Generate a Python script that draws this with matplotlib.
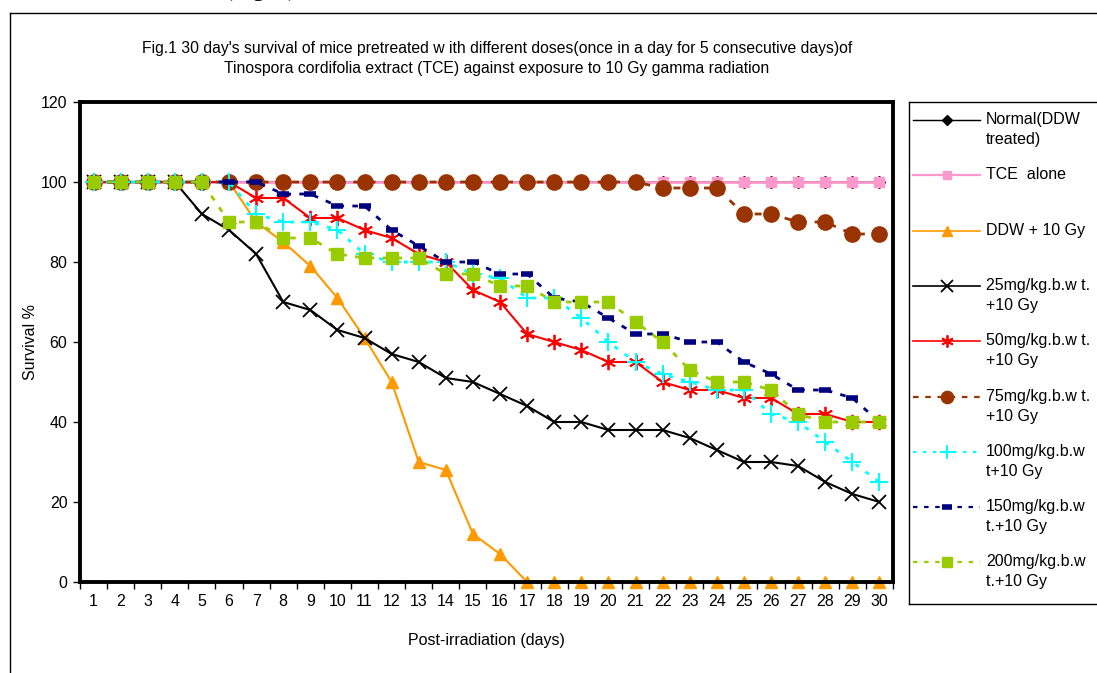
import matplotlib
matplotlib.use("Agg")
import matplotlib.pyplot as plt
from matplotlib.lines import Line2D

plt.rcParams['font.family'] = ['Liberation Sans', 'DejaVu Sans']

days = list(range(1, 31))

normal = [100] * 30
tce_alone = [100] * 30
ddw_10gy = [100, 100, 100, 100, 100, 100, 90, 85, 79, 71,
            61, 50, 30, 28, 12, 7, 0, 0, 0, 0,
            0, 0, 0, 0, 0, 0, 0, 0, 0, 0]
dose_25 = [100, 100, 100, 100, 92, 88, 82, 70, 68, 63,
           61, 57, 55, 51, 50, 47, 44, 40, 40, 38,
           38, 38, 36, 33, 30, 30, 29, 25, 22, 20]
dose_50 = [100, 100, 100, 100, 100, 100, 96, 96, 91, 91,
           88, 86, 82, 80, 73, 70, 62, 60, 58, 55,
           55, 50, 48, 48, 46, 46, 42, 42, 40, 40]
dose_75 = [100, 100, 100, 100, 100, 100, 100, 100, 100, 100,
           100, 100, 100, 100, 100, 100, 100, 100, 100, 100,
           100, 98.5, 98.5, 98.5, 92, 92, 90, 90, 87, 87]
dose_100 = [100, 100, 100, 100, 100, 100, 92, 90, 90, 88,
            82, 80, 80, 80, 77, 76, 71, 71, 66, 60,
            55, 52, 50, 48, 48, 42, 40, 35, 30, 25]
dose_150 = [100, 100, 100, 100, 100, 100, 100, 97, 97, 94,
            94, 88, 84, 80, 80, 77, 77, 71, 70, 66,
            62, 62, 60, 60, 55, 52, 48, 48, 46, 40]
dose_200 = [100, 100, 100, 100, 100, 90, 90, 86, 86, 82,
            81, 81, 81, 77, 77, 74, 74, 70, 70, 70,
            65, 60, 53, 50, 50, 48, 42, 40, 40, 40]

labels = ["Normal(DDW\ntreated)", "TCE  alone", "DDW + 10 Gy",
          "25mg/kg.b.w t.\n+10 Gy", "50mg/kg.b.w t.\n+10 Gy",
          "75mg/kg.b.w t.\n+10 Gy", "100mg/kg.b.w\nt+10 Gy",
          "150mg/kg.b.w\nt.+10 Gy", "200mg/kg.b.w\nt.+10 Gy"]

W, H = 1097, 673
fig = plt.figure(figsize=(W / 100, H / 100), dpi=100)

# outer chart border and the heading above it (cut off in the original)
fig.add_artist(Line2D([10 / W, 1], [1 - 13 / H, 1 - 13 / H], color='black', lw=1))
fig.add_artist(Line2D([10 / W, 10 / W], [0, 1 - 13 / H], color='black', lw=1))
fig.text(260 / W, 1 + 4 / H, "(Fig. 1)", family='Liberation Serif', fontsize=17,
         ha='center', va='baseline')

ax = fig.add_axes([80 / W, (H - 582) / H, 813 / W, 480 / H])

styles = [
    dict(color='black', ls='-', marker='D', ms=6, lw=1.3),
    dict(color='#ff99cc', ls='-', marker='s', ms=7, lw=2),
    dict(color='#ff9900', ls='-', marker='^', ms=9, lw=1.5),
    dict(color='black', ls='-', marker='x', ms=10, mew=1.3, lw=1.5),
    dict(color='#ff0000', ls='-', marker=(6, 2, 0), ms=11, mew=1.3, lw=1.5),
    dict(color='#993300', ls=(0, (2.5, 3)), marker='o', ms=11, lw=2),
    dict(color='#00ffff', ls=(0, (1.5, 3)), marker='+', ms=13, mew=1.5, lw=2),
    dict(color='#000080', ls=(0, (2, 3)), marker='_', ms=9, mew=4, lw=2),
    dict(color='#99cc00', ls=(0, (2, 3)), marker='s', ms=9, lw=2),
]
series = [normal, tce_alone, ddw_10gy, dose_25, dose_50, dose_75,
          dose_100, dose_150, dose_200]

for vals, st in zip(series, styles):
    ax.plot(days, vals, clip_on=False, **st)

ax.set_xlim(0.5, 30.5)
ax.set_ylim(0, 120)
ax.set_yticks(range(0, 121, 20))
ax.set_xticks([d + 0.5 for d in range(0, 31)])
ax.set_xticklabels([])
ax.set_xticks(days, minor=True)
ax.set_xticklabels([str(d) for d in days], minor=True, fontsize=11.5)
ax.tick_params(axis='x', which='major', direction='out', length=5, width=1)
ax.tick_params(axis='x', which='minor', length=0, pad=9)
ax.tick_params(axis='y', direction='out', length=5, width=1, labelsize=11.5, pad=4)
for sp in ax.spines.values():
    sp.set_linewidth(2.8)

ax.set_ylabel("Survival %", fontsize=11.5, labelpad=2)
ax.set_xlabel("Post-irradiation (days)", fontsize=11.5, labelpad=17)

fig.text(497 / W, 1 - 48 / H,
         "Fig.1 30 day's survival of mice pretreated w ith different doses(once in a day for 5 consecutive days)of",
         ha='center', va='center', fontsize=11.3)
fig.text(497 / W, 1 - 68 / H,
         "Tinospora cordifolia extract (TCE) against exposure to 10 Gy gamma radiation",
         ha='center', va='center', fontsize=11.3)

# legend box, entries spaced like the original
lg = fig.add_axes([909 / W, (H - 604) / H, (W - 909 + 5) / W, 502 / H])
lg.set_xlim(909, W + 5)
lg.set_ylim(604, 102)
lg.set_xticks([])
lg.set_yticks([])
for sp in lg.spines.values():
    sp.set_linewidth(1)
entry_y = [120, 175, 231, 286, 341, 397, 452, 507, 562]
for y, lab, st in zip(entry_y, labels, styles):
    s = dict(st)
    s['ms'] = s['ms'] * 0.8
    lg.plot([913, 980], [y, y], color=s['color'], ls=s['ls'], lw=s['lw'] * 0.8)
    lg.plot([947], [y], color=s['color'], marker=s['marker'], ms=s['ms'],
            mew=s.get('mew', 1), ls='none')
    lg.text(986, y - 8, lab, fontsize=11.5, va='top', ha='left', linespacing=1.45)

fig.savefig("out.png", dpi=100)
